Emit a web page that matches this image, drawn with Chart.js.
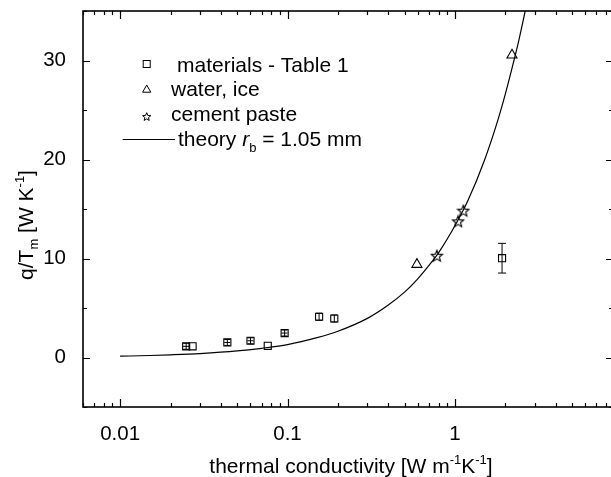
<!DOCTYPE html>
<html>
<head>
<meta charset="utf-8">
<script src="https://cdn.jsdelivr.net/npm/chart.js@4/dist/chart.umd.min.js"></script>
<style>
html,body{margin:0;padding:0;overflow:hidden;background:#fff;}
canvas{display:block;}
</style>
</head>
<body>
<canvas id="c" width="620" height="477"></canvas>
<script>
// ---- data ----
const matK = [0.0248, 0.0271, 0.0437, 0.0601, 0.0762, 0.0961, 0.1544, 0.1903, 1.913];
const matQ = [1.13, 1.13, 1.52, 1.69, 1.18, 2.47, 4.12, 3.94, 10.03];
const matQErr = [0.3, 0, 0.3, 0.3, 0, 0.3, 0.35, 0.35, 1.5];
const matKErr = [0.0011, 0, 0.0018, 0.0025, 0, 0.004, 0, 0, 0];

const waterK = [0.593, 2.193];
const waterQ = [9.4, 30.55];

const cementK = [0.780, 1.045, 1.123];
const cementQ = [10.28, 13.75, 14.83];

const theoryK = [0.01, 0.015, 0.02, 0.03, 0.05, 0.07, 0.1, 0.15, 0.2, 0.3, 0.4, 0.5, 0.6, 0.7, 0.8, 1.0, 1.2, 1.5, 1.8, 2.0, 2.2, 2.4, 2.6, 2.75];
const theoryQ = [0.13, 0.2, 0.27, 0.4, 0.66, 0.93, 1.3, 2.0, 2.65, 3.95, 5.3, 6.6, 7.95, 9.3, 10.6, 13.3, 15.9, 19.9, 23.9, 26.6, 29.3, 31.9, 34.6, 36.6];

const xTicks = [0.01, 0.1, 1];
const yTicks = [0, 10, 20, 30];
const yMinorTicks = [-5, 5, 15, 25, 35];

const FONT = "'Liberation Sans', Arial, sans-serif";

function starPath(ctx, cx, cy, ro, ri) {
  ctx.beginPath();
  for (let i = 0; i < 10; i++) {
    const r = (i % 2 === 0) ? ro : ri;
    const a = -Math.PI / 2 + i * Math.PI / 5;
    const x = cx + r * Math.cos(a), y = cy + r * Math.sin(a);
    if (i === 0) ctx.moveTo(x, y); else ctx.lineTo(x, y);
  }
  ctx.closePath();
}
function makeStar(size, ro, ri, lw) {
  const cv = document.createElement('canvas');
  cv.width = size; cv.height = size;
  const g = cv.getContext('2d');
  g.strokeStyle = '#000'; g.lineWidth = lw; g.lineJoin = 'miter';
  starPath(g, size / 2, size / 2 + 0.5, ro, ri);
  g.stroke();
  return cv;
}
const starImg = makeStar(14, 6, 2.6, 1.1);

const data = {
  datasets: [
    { label: 'materials - Table 1', data: matK.map((k, i) => ({x: k, y: matQ[i]})),
      showLine: false, pointStyle: 'rect', pointRadius: 5, borderColor: '#000', borderWidth: 1.1,
      backgroundColor: 'rgba(0,0,0,0)', pointBackgroundColor: 'rgba(0,0,0,0)', order: 2 },
    { label: 'water, ice', data: waterK.map((k, i) => ({x: k, y: waterQ[i]})),
      showLine: false, pointStyle: 'triangle', pointRadius: 5.8, borderColor: '#000', borderWidth: 1.1,
      pointBackgroundColor: 'rgba(0,0,0,0)', order: 2 },
    { label: 'cement paste', data: cementK.map((k, i) => ({x: k, y: cementQ[i]})),
      showLine: false, pointStyle: starImg, pointRadius: 6, borderColor: '#000', order: 2 },
    { label: 'theory', data: theoryK.map((k, i) => ({x: k, y: theoryQ[i]})),
      showLine: true, pointRadius: 0, borderColor: '#000', borderWidth: 1.2,
      cubicInterpolationMode: 'monotone', fill: false, order: 3 }
  ]
};

function drawRich(ctx, parts, x, y, align) {
  let w = 0;
  parts.forEach(p => { ctx.font = (p.italic ? 'italic ' : '') + p.size + 'px ' + FONT; w += ctx.measureText(p.t).width; });
  let cx = align === 'center' ? x - w / 2 : x;
  parts.forEach(p => {
    ctx.font = (p.italic ? 'italic ' : '') + p.size + 'px ' + FONT;
    ctx.fillText(p.t, cx, y + (p.dy || 0));
    cx += ctx.measureText(p.t).width;
  });
}

const framePlugin = {
  id: 'frame',
  afterDatasetsDraw(chart) {
    const ctx = chart.ctx, xs = chart.scales.x, ys = chart.scales.y, a = chart.chartArea;
    ctx.save();
    // error bars
    ctx.strokeStyle = '#000'; ctx.lineWidth = 1;
    matK.forEach((k, i) => {
      const px = xs.getPixelForValue(k), py = ys.getPixelForValue(matQ[i]);
      const cap = i === matK.length - 1 ? 4 : 3;
      if (matQErr[i] > 0) {
        const p1 = ys.getPixelForValue(matQ[i] + matQErr[i]), p2 = ys.getPixelForValue(matQ[i] - matQErr[i]);
        ctx.beginPath();
        ctx.moveTo(px, p1); ctx.lineTo(px, p2);
        ctx.moveTo(px - cap, p1); ctx.lineTo(px + cap, p1);
        ctx.moveTo(px - cap, p2); ctx.lineTo(px + cap, p2);
        ctx.stroke();
      }
      if (matKErr[i] > 0) {
        const q1 = xs.getPixelForValue(k - matKErr[i]), q2 = xs.getPixelForValue(k + matKErr[i]);
        ctx.beginPath();
        ctx.moveTo(q1, py); ctx.lineTo(q2, py);
        ctx.stroke();
      }
    });
    // frame
    ctx.lineWidth = 1.6; ctx.strokeStyle = '#000';
    ctx.strokeRect(a.left, a.top, a.right - a.left, a.bottom - a.top);
    ctx.lineWidth = 1.2;
    ctx.beginPath();
    const dmin = Math.floor(Math.log10(xs.min)), dmax = Math.ceil(Math.log10(xs.max));
    for (let d = dmin; d <= dmax; d++) {
      for (let m = 1; m <= 9; m++) {
        const v = m * Math.pow(10, d);
        if (v < xs.min || v > xs.max) continue;
        const px = Math.round(xs.getPixelForValue(v)) + 0.5;
        const len = m === 1 ? 8 : 4;
        ctx.moveTo(px, a.bottom); ctx.lineTo(px, a.bottom - len);
        ctx.moveTo(px, a.top); ctx.lineTo(px, a.top + len);
      }
    }
    yTicks.forEach(v => {
      const py = Math.round(ys.getPixelForValue(v)) + 0.5;
      ctx.moveTo(a.left, py); ctx.lineTo(a.left + 7, py);
      ctx.moveTo(a.right, py); ctx.lineTo(a.right - 7, py);
    });
    yMinorTicks.forEach(v => {
      const py = Math.round(ys.getPixelForValue(v)) + 0.5;
      ctx.moveTo(a.left, py); ctx.lineTo(a.left + 4, py);
      ctx.moveTo(a.right, py); ctx.lineTo(a.right - 4, py);
    });
    ctx.stroke();

    // axis titles
    ctx.fillStyle = '#000';
    ctx.textBaseline = 'alphabetic';
    drawRich(ctx, [
      {t: 'thermal conductivity [W m', size: 21},
      {t: '-1', size: 13, dy: -9},
      {t: 'K', size: 21},
      {t: '-1', size: 13, dy: -9},
      {t: ']', size: 21}
    ], 351, 473, 'center');
    ctx.save();
    ctx.translate(33, 225);
    ctx.rotate(-Math.PI / 2);
    drawRich(ctx, [
      {t: 'q/T', size: 21},
      {t: 'm', size: 13, dy: 5},
      {t: ' [W K', size: 21},
      {t: '-1', size: 13, dy: -9},
      {t: ']', size: 21}
    ], 0, 0, 'center');
    ctx.restore();

    // legend
    ctx.lineWidth = 1;
    ctx.strokeRect(143.2, 60.5, 7, 7);
    ctx.beginPath();
    ctx.moveTo(146.7, 85); ctx.lineTo(150.8, 92.2); ctx.lineTo(142.6, 92.2); ctx.closePath();
    ctx.stroke();
    starPath(ctx, 146.7, 117, 4.3, 1.9);
    ctx.stroke();
    ctx.lineWidth = 1.2;
    ctx.beginPath(); ctx.moveTo(122.7, 139.5); ctx.lineTo(175, 139.5); ctx.stroke();
    drawRich(ctx, [{t: 'materials - Table 1', size: 21}], 177, 71.5, 'left');
    drawRich(ctx, [{t: 'water, ice', size: 21}], 171, 96, 'left');
    drawRich(ctx, [{t: 'cement paste', size: 21}], 171, 121, 'left');
    drawRich(ctx, [
      {t: 'theory ', size: 21},
      {t: 'r', size: 21, italic: true},
      {t: 'b', size: 13, dy: 6},
      {t: ' = 1.05 mm', size: 21}
    ], 178, 146, 'left');
    ctx.restore();
  }
};

new Chart(document.getElementById('c'), {
  type: 'scatter',
  data: data,
  plugins: [framePlugin],
  options: {
    responsive: false,
    animation: false,
    devicePixelRatio: 1,
    layout: { padding: { left: 0, right: 3, top: 11, bottom: 0 } },
    plugins: { legend: { display: false }, tooltip: { enabled: false } },
    scales: {
      x: {
        type: 'logarithmic', min: 0.006, max: 8.8,
        grid: { display: false }, border: { display: false },
        afterBuildTicks: s => { s.ticks = xTicks.map(v => ({ value: v, major: true })); },
        afterFit: s => { s.height = 70; s.paddingLeft = 0; s.paddingRight = 0; },
        ticks: { color: '#000', font: { family: FONT, size: 20.5 }, padding: 7, maxRotation: 0, autoSkip: false,
          callback: v => String(v) }
      },
      y: {
        type: 'linear', min: -5, max: 35,
        grid: { display: false }, border: { display: false },
        afterBuildTicks: s => { s.ticks = yTicks.map(v => ({ value: v })); },
        afterFit: s => { s.width = 83; s.paddingTop = 0; s.paddingBottom = 0; },
        ticks: { color: '#000', font: { family: FONT, size: 20.5 }, padding: 9, callback: v => String(v) }
      }
    }
  }
});
</script>
</body>
</html>
